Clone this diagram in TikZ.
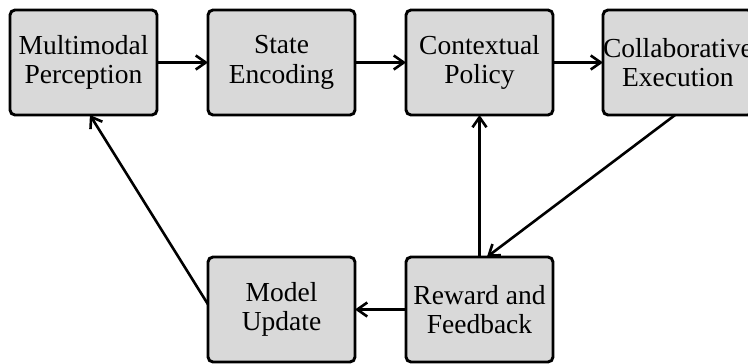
\documentclass[tikz,border=0pt]{standalone}
\usepackage{fontspec}
\setmainfont{Liberation Serif}
\usetikzlibrary{arrows.meta,positioning}

\begin{document}
\begin{tikzpicture}[x=1pt,y=1pt,>={Straight Barb[length=10pt,width=14pt]},node distance=51pt,s/.style={draw,line width=2.9pt,rounded corners=5pt,fill=gray!30,minimum width=147pt,minimum height=105pt,inner sep=0pt,outer sep=0pt,align=center,font=\fontsize{27.5}{29.5}\selectfont},l/.style={->,line width=2.6pt}]
 \useasboundingbox (0,0) rectangle (748,-364);
 \node[s] (a) at (83.5,-62.5) {Multimodal\\Perception};
 \node[s,right=of a] (b) {State\\Encoding};
 \node[s,right=of b] (c) {Contextual\\Policy};
 \node[s,right=50pt of c] (d) {Collaborative\\Execution};
 \node[s,below=142pt of b] (e) {Model\\Update};
 \node[s,below=142pt of c] (f) {Reward and\\Feedback};
 \draw[l] (a)--(b); \draw[l] (b)--(c); \draw[l] (c)--(d); \draw[l] (d.-93)--(f.82); \draw[l] (f)--(c); \draw[l] (f)--(e); \draw[l] (e.176)--(a.-83);
\end{tikzpicture}
\end{document}
